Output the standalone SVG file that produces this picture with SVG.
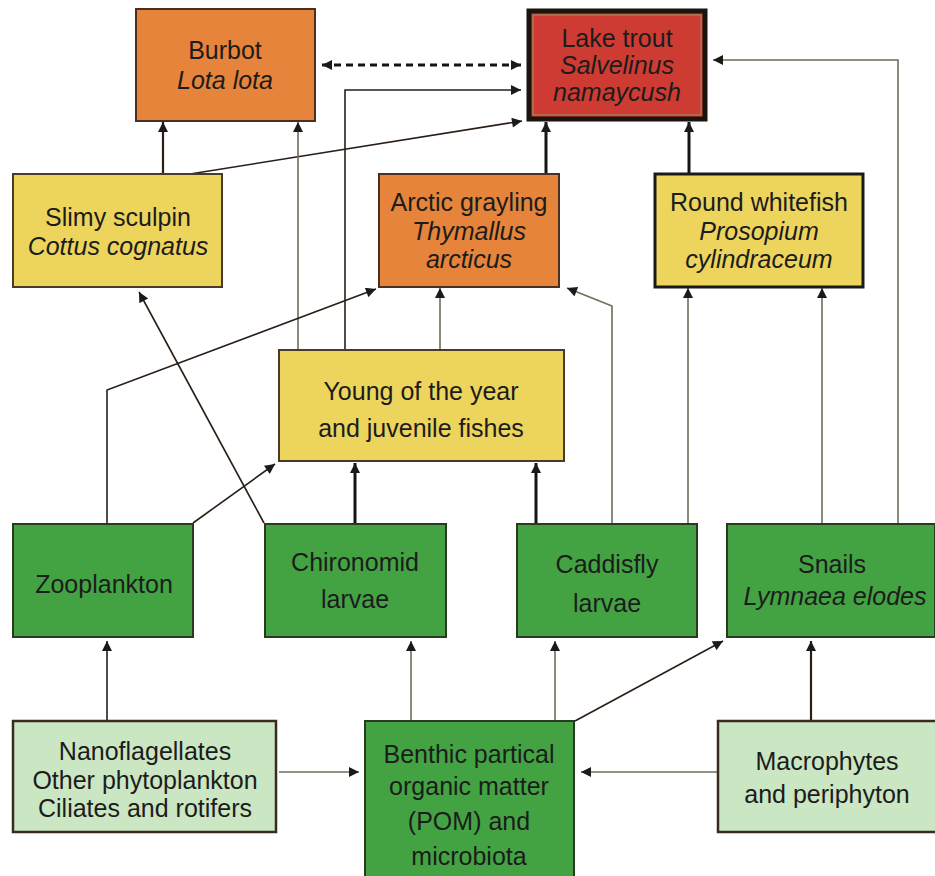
<svg xmlns="http://www.w3.org/2000/svg" width="935" height="876" viewBox="0 0 935 876">
<defs>
<marker id="ah" viewBox="0 0 10 10" refX="10" refY="5" markerWidth="11" markerHeight="10" markerUnits="userSpaceOnUse" orient="auto-start-reverse">
<path d="M0,0 L10,5 L0,10 z" fill="#1a1a1a"/>
</marker>
</defs>
<style>
text{font-family:"Liberation Sans",Arial,sans-serif;font-size:25px;fill:#1c1c1c;text-anchor:middle}
.i{font-style:italic}
.orange{fill:#E5843A;stroke:#4a3020;stroke-width:2}
.red{fill:#CD3B33;stroke:#1a140c;stroke-width:5}
.inner{fill:none;stroke:#a08860;stroke-width:1.2}
.yellow{fill:#EDD45C;stroke:#4a3a2a;stroke-width:2}
.yellowb{fill:#EDD45C;stroke:#1a1a1a;stroke-width:3}
.green{fill:#43A343;stroke:#2a3a22;stroke-width:2}
.lgreen{fill:#CAE6C2;stroke:#3a2a20;stroke-width:2.5}
.thin{fill:none;stroke:#6e6e58;stroke-width:1.6}
.dark{fill:none;stroke:#2a1e16;stroke-width:1.6}
.thick{fill:none;stroke:#141414;stroke-width:3}
.dash{fill:none;stroke:#141414;stroke-width:3;stroke-dasharray:7 5}
</style>
<rect width="935" height="876" fill="#ffffff"/>

<g id="connectors">
<line class="dash" x1="322" y1="65" x2="521" y2="65" marker-start="url(#ah)" marker-end="url(#ah)"/>
<line class="dark" x1="163" y1="174" x2="163" y2="122" marker-end="url(#ah)" style="stroke-width:2.2"/>
<line class="dark" x1="190" y1="174" x2="522" y2="121" marker-end="url(#ah)"/>
<line class="thin" x1="298" y1="350" x2="298" y2="122" marker-end="url(#ah)"/>
<polyline class="dark" points="345,350 345,90 521,90" marker-end="url(#ah)"/>
<line class="thin" x1="440" y1="350" x2="440" y2="288" marker-end="url(#ah)"/>
<line class="thick" x1="546" y1="174" x2="546" y2="122" marker-end="url(#ah)"/>
<line class="thick" x1="689" y1="174" x2="689" y2="122" marker-end="url(#ah)"/>
<polyline class="thin" points="898,524 898,60 713,60" marker-end="url(#ah)"/>
<line class="thin" x1="822" y1="524" x2="822" y2="288" marker-end="url(#ah)"/>
<line class="thin" x1="688" y1="524" x2="688" y2="288" marker-end="url(#ah)"/>
<polyline class="thin" points="612,524 612,306 567,288" marker-end="url(#ah)"/>
<line class="thick" x1="536" y1="524" x2="536" y2="463" marker-end="url(#ah)"/>
<line class="thick" x1="355" y1="524" x2="355" y2="463" marker-end="url(#ah)"/>
<line class="dark" x1="264" y1="523" x2="139" y2="292" marker-end="url(#ah)"/>
<polyline class="dark" points="107,524 107,390 376,289" marker-end="url(#ah)"/>
<line class="dark" x1="193" y1="523" x2="275" y2="464" marker-end="url(#ah)"/>
<line class="dark" x1="107" y1="720" x2="107" y2="641" marker-end="url(#ah)"/>
<line class="thin" x1="411" y1="720" x2="411" y2="641" marker-end="url(#ah)"/>
<line class="thin" x1="555" y1="720" x2="555" y2="641" marker-end="url(#ah)"/>
<line class="dark" x1="575" y1="721" x2="723" y2="641" marker-end="url(#ah)"/>
<line class="dark" x1="811" y1="720" x2="811" y2="641" marker-end="url(#ah)" style="stroke-width:2.2"/>
<line class="thin" x1="279" y1="772" x2="359" y2="772" marker-end="url(#ah)"/>
<line class="thin" x1="717" y1="772" x2="581" y2="772" marker-end="url(#ah)"/>
</g>

<g id="burbot">
<rect class="orange" x="136" y="9" width="179" height="112"/>
<text x="225" y="59">Burbot</text>
<text class="i" x="225" y="89">Lota  lota</text>
</g>
<g id="lake-trout">
<rect class="red" x="529" y="11" width="176" height="108"/>
<rect class="inner" x="533" y="15" width="168" height="100"/>
<text x="617" y="47">Lake trout</text>
<text class="i" x="617" y="74">Salvelinus</text>
<text class="i" x="617" y="101">namaycush</text>
</g>
<g id="slimy-sculpin">
<rect class="yellow" x="13" y="174" width="209" height="113"/>
<text x="118" y="226">Slimy sculpin</text>
<text class="i" x="118" y="255">Cottus cognatus</text>
</g>
<g id="arctic-grayling">
<rect class="orange" x="379" y="174" width="180" height="113"/>
<text x="469" y="211">Arctic grayling</text>
<text class="i" x="469" y="240">Thymallus</text>
<text class="i" x="469" y="268">arcticus</text>
</g>
<g id="round-whitefish">
<rect class="yellowb" x="655" y="174" width="208" height="113"/>
<text x="759" y="211">Round whitefish</text>
<text class="i" x="759" y="240">Prosopium</text>
<text class="i" x="759" y="268">cylindraceum</text>
</g>
<g id="young-of-year">
<rect class="yellow" x="279" y="350" width="285" height="111"/>
<text x="421" y="400">Young of the year</text>
<text x="421" y="437">and juvenile fishes</text>
</g>
<g id="zooplankton">
<rect class="green" x="13" y="524" width="180" height="113"/>
<text x="104" y="593">Zooplankton</text>
</g>
<g id="chironomid">
<rect class="green" x="265" y="524" width="181" height="113"/>
<text x="355" y="571">Chironomid</text>
<text x="355" y="608">larvae</text>
</g>
<g id="caddisfly">
<rect class="green" x="517" y="524" width="180" height="113"/>
<text x="607" y="573">Caddisfly</text>
<text x="607" y="612">larvae</text>
</g>
<g id="snails">
<rect class="green" x="727" y="524" width="208" height="113"/>
<text x="832" y="573">Snails</text>
<text class="i" x="835" y="605">Lymnaea elodes</text>
</g>
<g id="nanoflagellates">
<rect class="lgreen" x="13" y="721" width="263" height="111"/>
<text x="145" y="760">Nanoflagellates</text>
<text x="145" y="789">Other phytoplankton</text>
<text x="145" y="817">Ciliates and rotifers</text>
</g>
<g id="benthic-pom">
<rect class="green" x="365" y="721" width="209" height="160"/>
<text x="469" y="763">Benthic partical</text>
<text x="469" y="795">organic matter</text>
<text x="469" y="830">(POM) and</text>
<text x="469" y="865">microbiota</text>
</g>
<g id="macrophytes">
<rect class="lgreen" x="718" y="721" width="220" height="111"/>
<text x="827" y="770">Macrophytes</text>
<text x="827" y="803">and periphyton</text>
</g>
</svg>
